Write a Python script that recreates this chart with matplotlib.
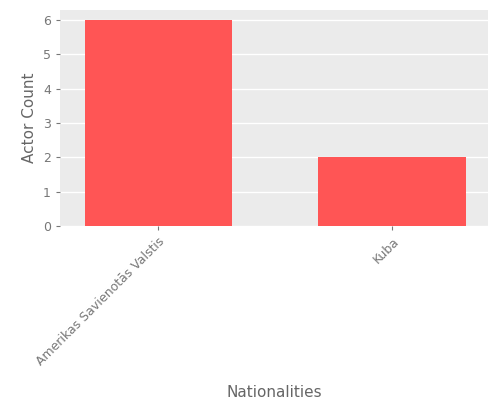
import matplotlib
matplotlib.use("Agg")
import matplotlib.pyplot as plt

nationalities = ["Amerikas Savienotās Valstis", "Kuba"]
counts = [6, 2]

fig = plt.figure(figsize=(5, 4), dpi=100)
ax = fig.add_axes([0.12, 0.435, 0.856, 0.54])
ax.set_facecolor("#EBEBEB")
ax.set_axisbelow(True)
ax.yaxis.grid(True, color="white", linewidth=1)
ax.bar(range(len(nationalities)), counts, width=0.63, color="#FF5555")
ax.set_xlim(-0.42, 1.41)
ax.set_ylim(0, 6.29)
ax.set_xticks(range(len(nationalities)))
ax.set_xticklabels(nationalities, rotation=45, ha="right", rotation_mode="anchor")
for s in ax.spines.values():
    s.set_visible(False)
ax.tick_params(colors="#777777", labelsize=9, length=3)
ax.tick_params(axis="x", labelcolor="#777777")
ax.set_xlabel("Nationalities", color="#666666", fontsize=11, labelpad=12)
ax.set_ylabel("Actor Count", color="#666666", fontsize=11)
fig.savefig("out.png")
